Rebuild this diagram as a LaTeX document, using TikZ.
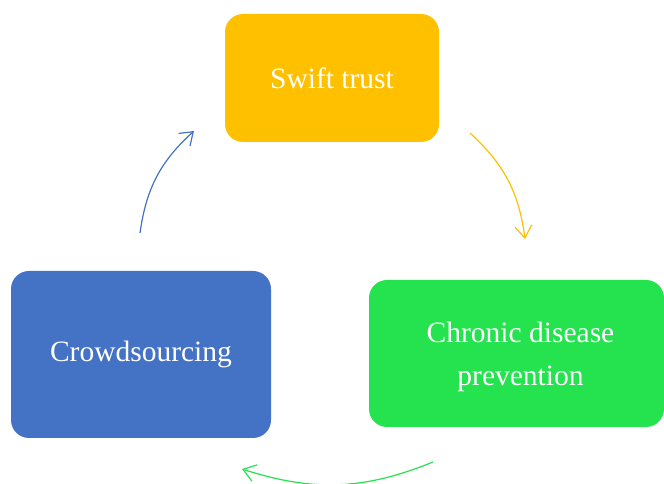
\documentclass[tikz,border=0pt]{standalone}
\usepackage{fontspec}
\setmainfont{Liberation Serif}
\usetikzlibrary{arrows.meta}
\definecolor{trustyellow}{HTML}{FFC000}
\definecolor{crowdblue}{HTML}{4472C4}
\definecolor{diseasegreen}{HTML}{24E34E}
\tikzset{
	box/.style={rounded corners=18pt, text=white, align=center, font=\fontsize{29.5}{43}\selectfont, inner sep=0pt},
	cyc/.style={line width=1.2pt, -{Straight Barb[length=12pt, width=17pt]}, bend left=20}
}
\begin{document}
\begin{tikzpicture}[x=1pt, y=1pt]
	\useasboundingbox (0,0) rectangle (664,484);
	\node[box, fill=trustyellow, minimum width=214pt, minimum height=128pt] (trust) at (332,406) {Swift trust};
	\node[box, fill=crowdblue, minimum width=260pt, minimum height=167pt] (crowd) at (141,129.5) {Crowdsourcing};
	\node[box, fill=diseasegreen, minimum width=295pt, minimum height=147pt] (chronic) at (516.5,130.5) {};
	\node[box] (chronictext) at ([xshift=4pt, yshift=-3pt]chronic.center) {Chronic disease\\prevention};
	\coordinate (a1) at (140,251);
	\coordinate (a2) at (194,353);
	\coordinate (b1) at (470,351);
	\coordinate (b2) at (525,245);
	\coordinate (c1) at (433,22);
	\coordinate (c2) at (242,15);
	\draw[crowdblue, cyc] (a1) to (a2);
	\draw[trustyellow, cyc] (b1) to (b2);
	\draw[diseasegreen, cyc] (c1) to (c2);
\end{tikzpicture}
\end{document}
